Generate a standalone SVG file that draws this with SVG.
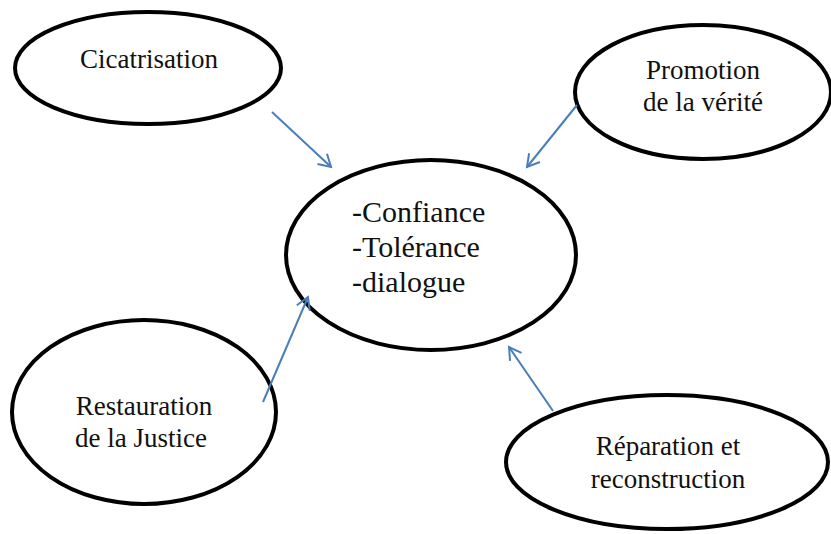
<svg xmlns="http://www.w3.org/2000/svg" width="831" height="534" viewBox="0 0 831 534">
<defs>
<style>
.node ellipse{fill:#fff;stroke:#000;stroke-width:4}
.node text{font-family:"Liberation Serif","Times New Roman",serif;fill:#111;font-size:27px;text-anchor:middle}
.node text.c{text-anchor:start;font-size:30px}
.conn line{stroke:#4a7ebb;stroke-width:2;fill:none}
</style>
<marker id="ah" markerWidth="16" markerHeight="16" refX="13" refY="8" orient="auto" markerUnits="userSpaceOnUse">
<path d="M1,1 L13,8 L1,15" fill="none" stroke="#4a7ebb" stroke-width="2"/>
</marker>
</defs>
<rect width="831" height="534" fill="#fff"/>
<g id="n-cicatrisation" class="node">
<ellipse cx="148" cy="68" rx="133" ry="56"/>
<text x="149" y="68">Cicatrisation</text>
</g>
<g id="n-promotion" class="node">
<ellipse cx="703" cy="92" rx="128" ry="67"/>
<text x="703" y="79">Promotion</text>
<text x="703" y="111">de la vérité</text>
</g>
<g id="n-centre" class="node">
<ellipse cx="431" cy="255" rx="145" ry="95"/>
<text class="c" x="352" y="222">-Confiance</text>
<text class="c" x="352" y="257">-Tolérance</text>
<text class="c" x="352" y="292">-dialogue</text>
</g>
<g id="n-restauration" class="node">
<ellipse cx="144" cy="412" rx="132" ry="92"/>
<text x="144" y="415">Restauration</text>
<text x="141" y="447">de la Justice</text>
</g>
<g id="n-reparation" class="node">
<ellipse cx="667" cy="462" rx="161" ry="67"/>
<text x="668" y="455">Réparation et</text>
<text x="668" y="488">reconstruction</text>
</g>
<g id="connectors" class="conn">
<line x1="272" y1="112" x2="331" y2="167" marker-end="url(#ah)"/>
<line x1="577" y1="105" x2="527" y2="167" marker-end="url(#ah)"/>
<line x1="263" y1="402" x2="308" y2="297" marker-end="url(#ah)"/>
<line x1="553" y1="411" x2="509" y2="347" marker-end="url(#ah)"/>
</g>
</svg>
